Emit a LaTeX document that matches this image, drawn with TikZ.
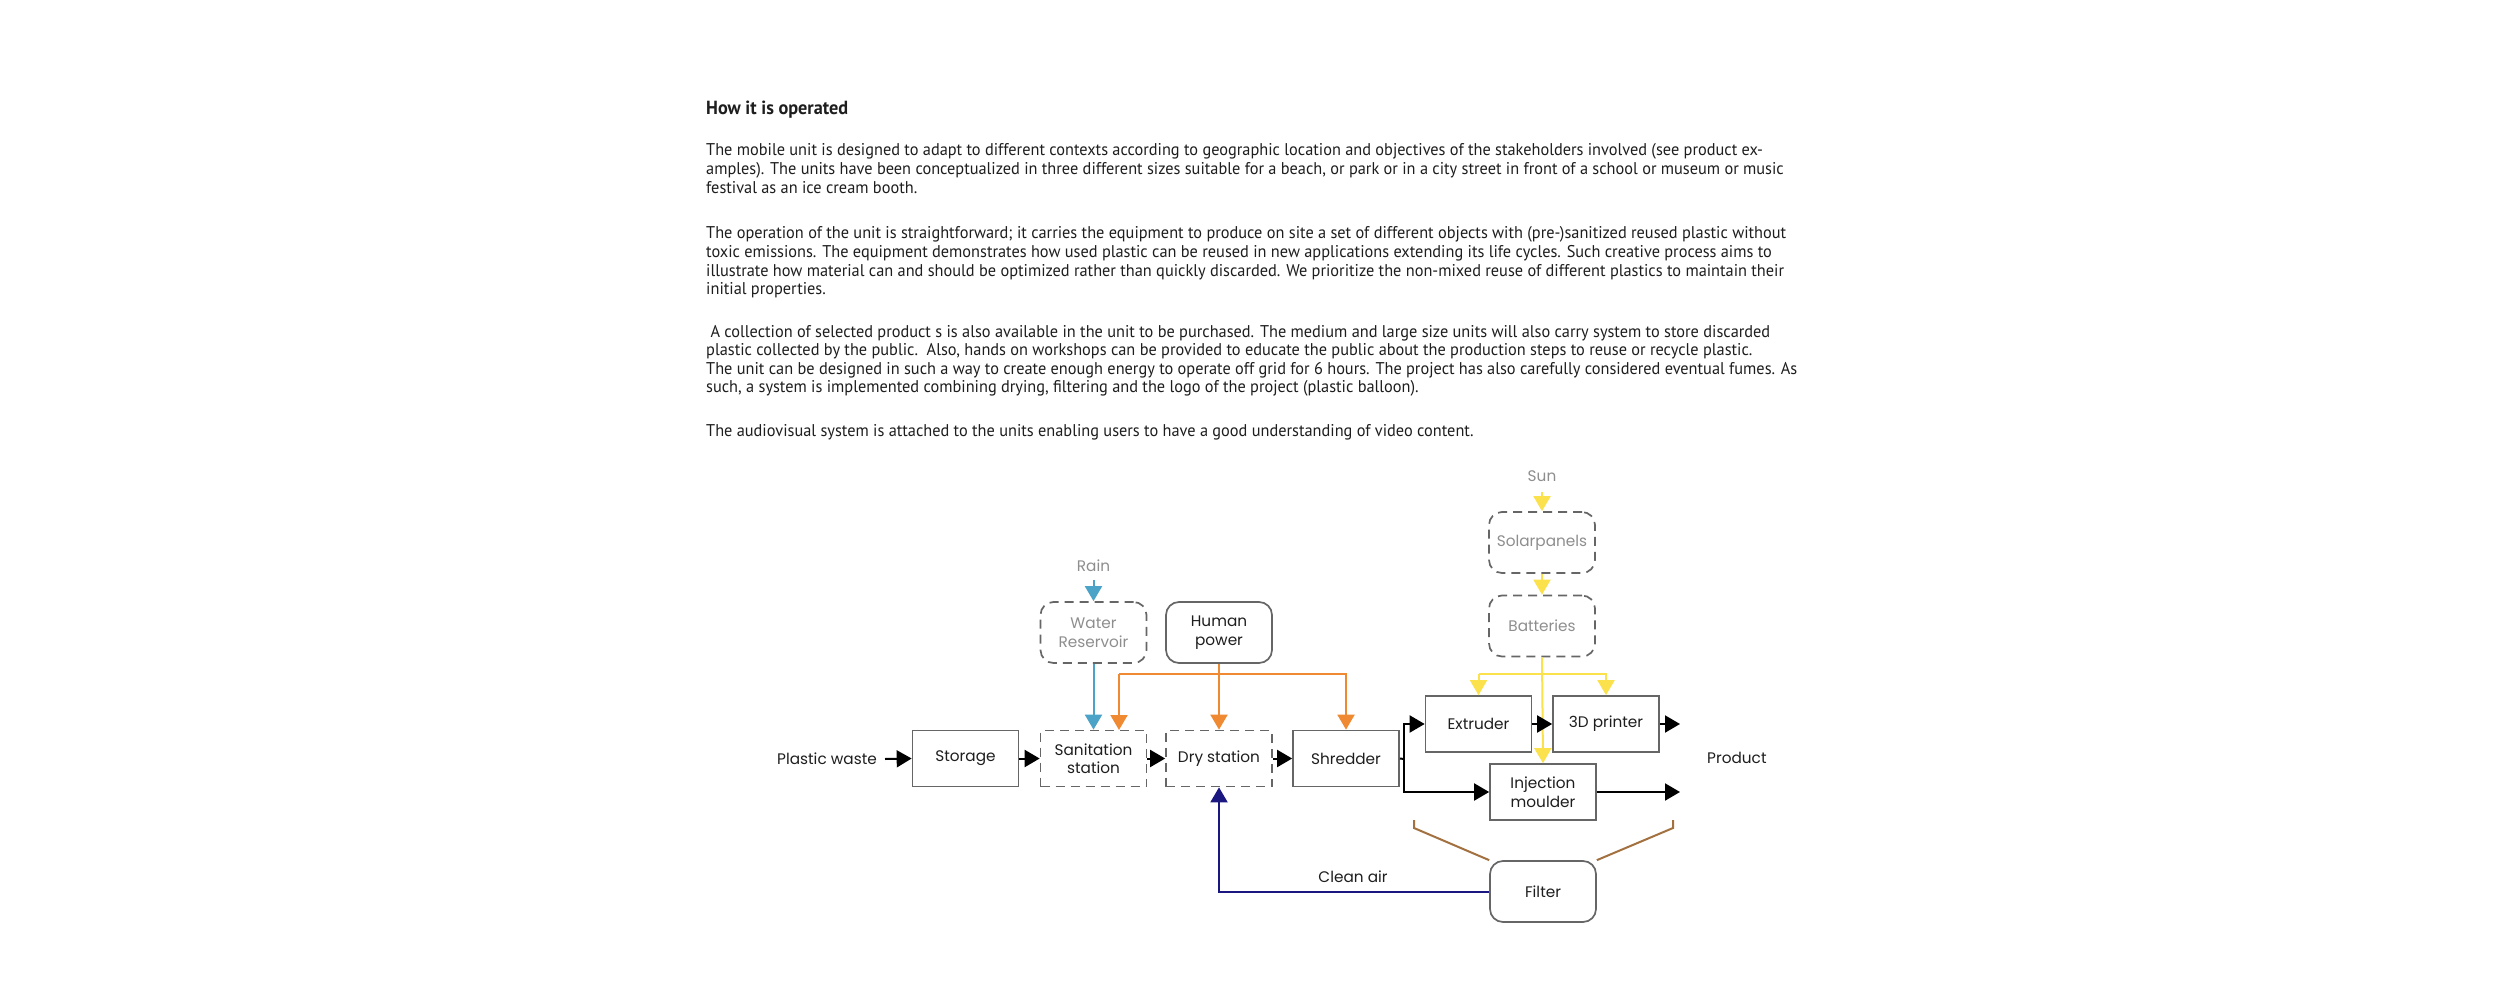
\documentclass[tikz,border=0pt]{standalone}
\usepackage{fontspec}
\usetikzlibrary{arrows.meta}
\newfontfamily\bodyfont[FakeStretch=0.96]{PT Sans}
\newfontfamily\diagfont{Poppins}
\definecolor{boxgray}{HTML}{666666}
\definecolor{lblgray}{HTML}{8E8E8E}
\definecolor{rainblue}{HTML}{4BA3C8}
\definecolor{humanorange}{HTML}{F08A32}
\definecolor{sunyellow}{HTML}{FBE14C}
\definecolor{airnavy}{HTML}{1B1780}
\definecolor{filterbrown}{HTML}{A2713F}
\definecolor{txtdark}{HTML}{1E1E1E}
\tikzset{
  para/.style={anchor=base west, inner sep=0pt, text=txtdark, font=\bodyfont\fontsize{17}{18}\selectfont},
  ttl/.style={anchor=base west, inner sep=0pt, text=txtdark, font=\bodyfont\bfseries\fontsize{19}{18}\selectfont},
  box/.style={draw=boxgray, line width=1.7pt, minimum width=106pt, minimum height=56pt, inner sep=0pt,
    align=center, text=txtdark, font=\diagfont\fontsize{15.3}{18.5}\selectfont},
  dbox/.style={box, dash pattern=on 9pt off 6pt},
  rbox/.style={box, rounded corners=13pt, minimum height=61pt},
  rdbox/.style={rbox, dash pattern=on 9pt off 6pt, text=lblgray},
  lbl/.style={inner sep=0pt, text=txtdark, font=\diagfont\fontsize{15.3}{18.5}\selectfont},
  glbl/.style={lbl, text=lblgray},
  arr/.style={line width=2pt, -{Triangle[length=15pt,width=17pt]}},
  plain/.style={line width=2pt},
}
\begin{document}
\begin{tikzpicture}[x=1pt,y=-1pt]
\useasboundingbox[fill=white] (0,0) rectangle (2500,1000);

% ---- text ----
\node[ttl] (title) at (706,115) {How it is operated};
\node[para] (p1a) at (706,156) {The mobile unit is designed to adapt to different contexts according to geographic location and objectives of the stakeholders involved (see product ex-};
\node[para] (p1b) at (706,174.6) {amples). The units have been conceptualized in three different sizes suitable for a beach, or park or in a city street in front of a school or museum or music};
\node[para] (p1c) at (706,193.2) {festival as an ice cream booth.};
\node[para] (p2a) at (706,239) {The operation of the unit is straightforward; it carries the equipment to produce on site a set of different objects with (pre-)sanitized reused plastic without};
\node[para] (p2b) at (706,257.6) {toxic emissions. The equipment demonstrates how used plastic can be reused in new applications extending its life cycles. Such creative process aims to};
\node[para] (p2c) at (706,276.2) {illustrate how material can and should be optimized rather than quickly discarded. We prioritize the non-mixed reuse of different plastics to maintain their};
\node[para] (p2d) at (706,294.8) {initial properties.};
\node[para] (p3a) at (706,337) {\ A collection of selected product s is also available in the unit to be purchased. The medium and large size units will also carry system to store discarded};
\node[para] (p3b) at (706,355.6) {plastic collected by the public.\ \ Also, hands on workshops can be provided to educate the public about the production steps to reuse or recycle plastic.};
\node[para] (p3c) at (706,374.2) {The unit can be designed in such a way to create enough energy to operate off grid for 6 hours. The project has also carefully considered eventual fumes. As};
\node[para] (p3d) at (706,392.8) {such, a system is implemented combining drying, filtering and the logo of the project (plastic balloon).};
\node[para] (p4a) at (706,436) {The audiovisual system is attached to the units enabling users to have a good understanding of video content.};

% ---- diagram nodes ----
\node[lbl, anchor=east] (waste) at (877,759) {Plastic waste};
\node[box] (storage) at (965.5,758.5) {Storage};
\node[dbox] (sanit) at (1093.5,758.5) {Sanitation\\station};
\node[dbox] (dry) at (1219,758.5) {Dry station};
\node[box] (shred) at (1346,758.5) {Shredder};
\node[rdbox] (water) at (1093.5,632.5) {Water\\Reservoir};
\node[rbox] (human) at (1219,632.5) {Human\\power};
\node[glbl] (rain) at (1093.5,566) {Rain};
\node[glbl] (sun) at (1542,476) {Sun};
\node[rdbox] (solar) at (1542,542.5) {Solarpanels};
\node[rdbox] (batt) at (1542,626) {Batteries};
\node[box] (extr) at (1478.5,724) {Extruder};
\node[box] (print) at (1606,724) {3D printer};
\node[box] (inj) at (1543,792) {Injection\\moulder};
\node[rbox] (filter) at (1543,891.5) {Filter};
\node[lbl, anchor=west] (product) at (1707,758) {Product};

\coordinate (rainstart) at (1093.5,580);
\coordinate (sunstart) at (1542,492);
\coordinate (printout) at (1680,724);
\coordinate (injout) at (1680,792);
\coordinate (split) at (1404,759);
\coordinate (wastestart) at (885,759);

% ---- solar ----
\draw[arr, sunyellow] (sunstart) -- (solar.north);
\draw[arr, sunyellow] (solar.south) -- (batt.north);
\draw[arr, sunyellow] (batt.south) -- (inj.north);
\draw[arr, sunyellow] (1478.5,674) -- (extr.north);
\draw[arr, sunyellow] (1478.5,674) -- (1606,674) -- (print.north);

% ---- black flow ----
\draw[arr] (wastestart) -- (storage.west);
\draw[arr] (storage) -- (sanit);
\draw[arr] (sanit) -- (dry);
\draw[arr] (dry) -- (shred);
\draw[plain] (shred.east) -- (split);
\draw[arr] (split) |- (extr.west);
\draw[arr] (split) |- (inj.west);
\draw[arr] (extr) -- (print);
\draw[arr] (print.east) -- (printout);
\draw[arr] (inj.east) -- (injout);

% ---- water ----
\draw[arr, rainblue] (rainstart) -- (water.north);
\draw[arr, rainblue] (water.south) -- (sanit.north);

% ---- human power ----
\draw[arr, humanorange] (human.south) -- (dry.north);
\draw[arr, humanorange] (1119,674) -- (1119,730);
\draw[arr, humanorange] (1119,674) -- (1346,674) -- (shred.north);

% ---- filter ----
\draw[plain, filterbrown] (1414,820) -- (1414,828) -- (filter.north west);
\draw[plain, filterbrown] (1673,820) -- (1673,828) -- (filter.north east);
\draw[arr, airnavy] (filter.west) -- (1219,891.5) -- (dry.south);
\node[lbl] (clean) at (1353,877) {Clean air};
\end{tikzpicture}
\end{document}
